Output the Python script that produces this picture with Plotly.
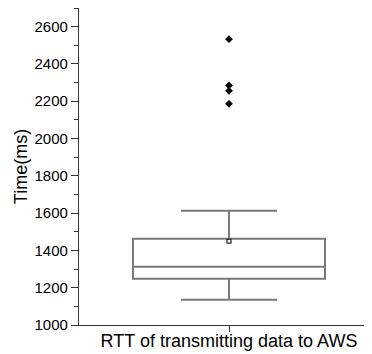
import plotly.graph_objects as go

category = ["RTT of transmitting data to AWS"]
q1 = [1248]
median = [1313]
q3 = [1463]
lower_whisker = [1136]
upper_whisker = [1613]
mean = [1450]
outliers = [2533, 2285, 2256, 2186]

FONT = "Arial, Liberation Sans, sans-serif"
xpos = [1]

fig = go.Figure()
fig.add_trace(go.Box(
    x=xpos, q1=q1, median=median, q3=q3,
    lowerfence=lower_whisker, upperfence=upper_whisker,
    width=0.64, whiskerwidth=0.5,
    line=dict(color="#7a7a7a", width=2),
    fillcolor="rgba(255,255,255,0)",
    boxpoints=False, showlegend=False, hoverinfo="skip",
))
fig.add_trace(go.Scatter(
    x=xpos * len(outliers), y=outliers, mode="markers",
    marker=dict(symbol="diamond", size=6, color="black"),
    showlegend=False,
))
fig.add_trace(go.Scatter(
    x=xpos, y=mean, mode="markers",
    marker=dict(symbol="square-open", size=4, color="#222", line=dict(width=1.2)),
    showlegend=False,
))

fig.update_layout(
    width=364, height=346,
    margin=dict(l=71, r=0, t=0, b=29),
    paper_bgcolor="white", plot_bgcolor="white",
    font=dict(family=FONT, color="black"),
    xaxis=dict(
        range=[0.5, 0.5 + 293 / 300],
        tickmode="array", tickvals=xpos, ticktext=category,
        ticks="outside", ticklen=6, tickcolor="#333",
        tickfont=dict(size=18, family=FONT),
        ticklabelstandoff=-7,
        showline=True, linecolor="#333", linewidth=1.2,
        showgrid=False, zeroline=False, automargin=False,
    ),
    yaxis=dict(
        range=[1000, 2700],
        tick0=1000, dtick=200,
        ticks="outside", ticklen=7, tickcolor="#333",
        tickfont=dict(size=15, family=FONT),
        minor=dict(dtick=100, ticks="outside", ticklen=4, tickcolor="#333", showgrid=False),
        showline=True, linecolor="#333", linewidth=1.2,
        showgrid=False, zeroline=False, automargin=False,
        title=dict(text="Time(ms)", font=dict(size=18, family=FONT), standoff=2),
    ),
)

fig.write_html("out.html")
